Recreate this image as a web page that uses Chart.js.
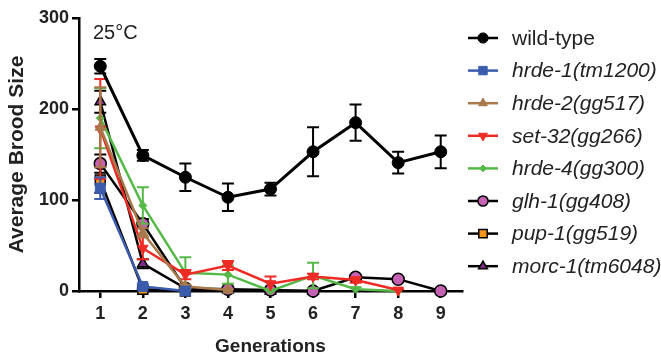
<!DOCTYPE html>
<html>
<head>
<meta charset="utf-8">
<script src="https://cdn.jsdelivr.net/npm/chart.js@4.4.1/dist/chart.umd.min.js"></script>
<style>
  html, body { margin: 0; padding: 0; background: #fff; }
  #wrap { position: relative; width: 661px; height: 358px; }
</style>
</head>
<body>
<div id="wrap"><canvas id="chart" width="661" height="358"></canvas></div>
<script>
// Data (average brood size per generation, mean +/- error)
const generations = ['1', '2', '3', '4', '5', '6', '7', '8', '9'];
const yTicks = [0, 100, 200, 300];

const wildType = [247, 149, 125, 103, 112, 153, 185, 141, 153];
const wildTypeErr = [8, 6, 15, 15, 7, 27, 20, 12, 18];

const hrde1 = [113, 5, 0];
const hrde1Err = [12, 2, 0];

const hrde2 = [180, 64, 5, 1];
const hrde2Err = [44, 5, 2, 1];

const set32 = [178, 47, 18, 28, 8, 16, 12, 1];
const set32Err = [55, 12, 5, 5, 8, 3, 3, 1];

const hrde4 = [190, 94, 20, 18, 0, 17, 2, 0];
const hrde4Err = [33, 20, 17, 10, 1, 14, 2, 0];

const glh1 = [140, 74, 3, 2, 1, 0, 15, 13, 0];
const glh1Err = [10, 5, 2, 1, 1, 0, 2, 2, 0];

const pup1 = [122, 2, 0];
const pup1Err = [14, 1, 0];

const morc1 = [208, 30, 3, 1, 0, 0];
const morc1Err = [12, 5, 1, 1, 0, 0];

const FONT = "'Liberation Sans', Arial, sans-serif";

function series(label, data, errors, line, fill, style, radius, opts = {}) {
    return Object.assign({
        label: label,
        data: data,
        errors: errors,
        borderColor: line,
        errColor: line,
        borderWidth: 2.5,
        pointStyle: style,
        pointRadius: radius,
        pointHoverRadius: radius,
        pointBackgroundColor: fill,
        pointBorderColor: line,
        pointBorderWidth: 1,
        pointRotation: 0,
        italic: true,
        clip: false,
        tension: 0
    }, opts);
}

const datasets = [
    series('wild-type', wildType, wildTypeErr, '#000000', '#000000', 'circle', 6, { borderWidth: 3, italic: false }),
    series('hrde-1(tm1200)', hrde1, hrde1Err, '#3b5cad', '#3b5cad', 'rect', 7),
    series('hrde-2(gg517)', hrde2, hrde2Err, '#a8794a', '#a8794a', 'triangle', 6),
    series('set-32(gg266)', set32, set32Err, '#ee2b24', '#ee2b24', 'triangle', 6, { pointRotation: 180 }),
    series('hrde-4(gg300)', hrde4, hrde4Err, '#55b947', '#55b947', 'rectRot', 4),
    series('glh-1(gg408)', glh1, glh1Err, '#000000', '#c562b3', 'circle', 6, { pointBorderWidth: 1.5 }),
    series('pup-1(gg519)', pup1, pup1Err, '#000000', '#f7941d', 'rect', 7, { pointBorderWidth: 1.5 }),
    series('morc-1(tm6048)', morc1, morc1Err, '#000000', '#7d2a88', 'triangle', 6, { pointBorderWidth: 1.5 })
];

// error bars drawn through the chart scales, just under each dataset
const errorBars = {
    id: 'errorBars',
    beforeDatasetDraw(chart, args) {
        const ds = chart.data.datasets[args.index];
        if (!ds.errors) return;
        const ctx = chart.ctx;
        const xs = chart.scales.x;
        const ys = chart.scales.y;
        ctx.save();
        ctx.strokeStyle = ds.errColor;
        ctx.lineWidth = 2;
        ds.data.forEach((v, i) => {
            const e = ds.errors[i];
            if (v == null || !e) return;
            const px = xs.getPixelForValue(i);
            const top = ys.getPixelForValue(v + e);
            const bot = ys.getPixelForValue(Math.max(v - e, 0));
            ctx.beginPath();
            ctx.moveTo(px, top); ctx.lineTo(px, bot);
            ctx.moveTo(px - 6, top); ctx.lineTo(px + 6, top);
            if (v - e > 0) { ctx.moveTo(px - 6, bot); ctx.lineTo(px + 6, bot); }
            ctx.stroke();
        });
        ctx.restore();
    }
};

// legend with line + marker, and the temperature note
const sideLegend = {
    id: 'sideLegend',
    afterDraw(chart) {
        const ctx = chart.ctx;
        ctx.save();
        ctx.fillStyle = '#222';
        ctx.font = '20px ' + FONT;
        ctx.textBaseline = 'middle';
        ctx.fillText('25°C', 93, 33);

        chart.data.datasets.forEach((ds, i) => {
            const y = 38 + i * 32.6;
            ctx.strokeStyle = ds.borderColor;
            ctx.lineWidth = 2.5;
            ctx.beginPath();
            ctx.moveTo(468, y); ctx.lineTo(498, y);
            ctx.stroke();
            ctx.fillStyle = ds.pointBackgroundColor;
            ctx.strokeStyle = ds.pointBorderColor;
            ctx.lineWidth = ds.pointBorderWidth;
            Chart.helpers.drawPoint(ctx, {
                pointStyle: ds.pointStyle,
                radius: ds.pointRadius * 0.85,
                rotation: ds.pointRotation,
                borderWidth: ds.pointBorderWidth
            }, 483, y);
            ctx.fillStyle = '#222';
            ctx.font = (ds.italic ? 'italic ' : '') + '21px ' + FONT;
            ctx.fillText(ds.label, 512, y + 1);
        });
        ctx.restore();
    }
};

new Chart(document.getElementById('chart'), {
    type: 'line',
    data: { labels: generations, datasets: datasets },
    options: {
        responsive: false,
        animation: false,
        devicePixelRatio: 1,
        layout: { padding: { top: 18, right: 199, left: 0, bottom: 0 } },
        plugins: { legend: { display: false }, tooltip: { enabled: false } },
        scales: {
            x: {
                type: 'category',
                offset: true,
                grid: { offset: false, drawOnChartArea: false, color: '#000', lineWidth: 2.5, tickLength: 7 },
                border: { color: '#000', width: 2.5 },
                ticks: { color: '#222', font: { family: FONT, size: 18, weight: 'bold' }, padding: 5, maxRotation: 0 },
                title: { display: true, text: 'Generations', color: '#222', font: { family: FONT, size: 19, weight: 'bold' }, padding: { top: 4, bottom: 0 } },
                afterFit(scale) { scale.height = 67; }
            },
            y: {
                min: 0,
                max: 300,
                afterBuildTicks(scale) { scale.ticks = yTicks.map(v => ({ value: v })); },
                grid: { drawOnChartArea: false, color: '#000', lineWidth: 2.5, tickLength: 7 },
                border: { color: '#000', width: 2.5 },
                ticks: { color: '#222', font: { family: FONT, size: 18, weight: 'bold' }, padding: 3 },
                title: { display: true, text: 'Average Brood Size', color: '#222', font: { family: FONT, size: 21, weight: 'bold' }, padding: { top: 5, bottom: 4 } },
                afterFit(scale) { scale.width = 79; }
            }
        }
    },
    plugins: [errorBars, sideLegend]
});
</script>
</body>
</html>
